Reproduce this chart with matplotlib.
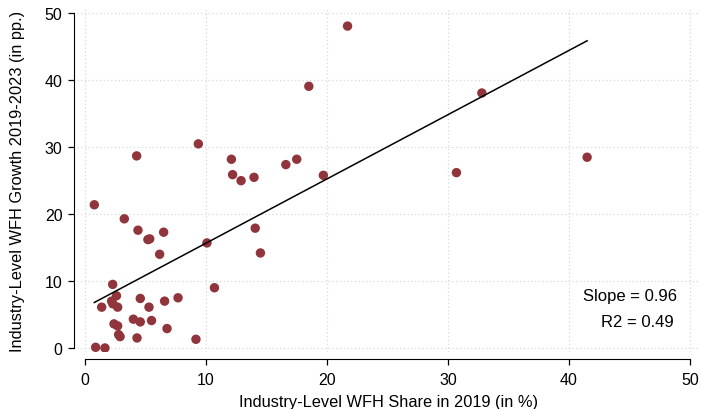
import matplotlib.pyplot as plt

plt.rcParams['font.family'] = ['Liberation Sans', 'DejaVu Sans']

# WFH share in 2019 (x, %) and WFH growth 2019-2023 (y, pp.)
share_2019 = [0.77, 3.25, 4.38, 5.2, 5.35, 6.5, 6.17, 10.08, 14.07, 14.5,
              2.29, 10.7, 2.6, 2.2, 2.3, 1.38, 2.7, 4.57, 5.29, 6.58,
              7.69, 2.4, 2.7, 4.0, 4.57, 5.5, 6.78, 2.78, 2.9, 4.3,
              9.17, 0.88, 1.65, 4.27, 9.37, 12.1, 12.2, 12.9, 13.97, 16.6,
              17.5, 19.7, 21.7, 18.5, 32.8, 30.7, 41.5]
growth = [21.4, 19.3, 17.6, 16.2, 16.3, 17.3, 14.0, 15.7, 17.9, 14.2,
          9.5, 9.0, 7.8, 7.0, 6.6, 6.1, 6.1, 7.4, 6.1, 7.0,
          7.5, 3.6, 3.3, 4.3, 3.9, 4.1, 2.9, 2.0, 1.7, 1.5,
          1.3, 0.1, 0.0, 28.7, 30.5, 28.2, 25.9, 25.0, 25.5, 27.4,
          28.2, 25.8, 48.1, 39.1, 38.1, 26.2, 28.5]

fit_slope = 0.96
fit_intercept = 6.06
r2 = 0.49
ticks = [0, 10, 20, 30, 40, 50]

W, H = 701, 410
fig = plt.figure(figsize=(W / 100, H / 100), dpi=100)
ax = fig.add_axes([77 / W, 1 - 353 / H, (700 - 77) / W, (353 - 10) / H])

ax.set_xlim(-0.66, 50.83)
ax.set_ylim(-0.6, 50.65)

ax.grid(True, linestyle=(0, (1, 2)), color='#d9d9d9', linewidth=0.9)
ax.set_axisbelow(True)

ax.scatter(share_2019, growth, s=46, color='#90353b', edgecolors='none', zorder=3)

x0, x1 = min(share_2019), max(share_2019)
ax.plot([x0, x1], [fit_intercept + fit_slope * x0, fit_intercept + fit_slope * x1],
        color='black', linewidth=1.1, zorder=4)

ax.text(48.9, 7.8, f'Slope = {fit_slope:.2f}', ha='right', va='center', fontsize=12)
ax.text(48.7, 3.9, f'R2 = {r2:.2f}', ha='right', va='center', fontsize=12)

ax.set_xticks(ticks)
ax.set_yticks(ticks)
for s in ['top', 'right']:
    ax.spines[s].set_visible(False)
ax.spines['left'].set_position(('outward', 2))
ax.spines['bottom'].set_position(('outward', 5))
ax.spines['left'].set_bounds(0, 50)
ax.spines['bottom'].set_bounds(0, 50)
ax.tick_params(direction='out', length=4.5, width=0.9, labelsize=11.5, pad=4)
ax.tick_params(axis='x', pad=5)

ax.set_xlabel('Industry-Level WFH Share in 2019 (in %)', fontsize=11.8, labelpad=5)
ax.set_ylabel('Industry-Level WFH Growth 2019-2023 (in pp.)', fontsize=11.8, labelpad=14)

fig.savefig('out.png', dpi=100)
